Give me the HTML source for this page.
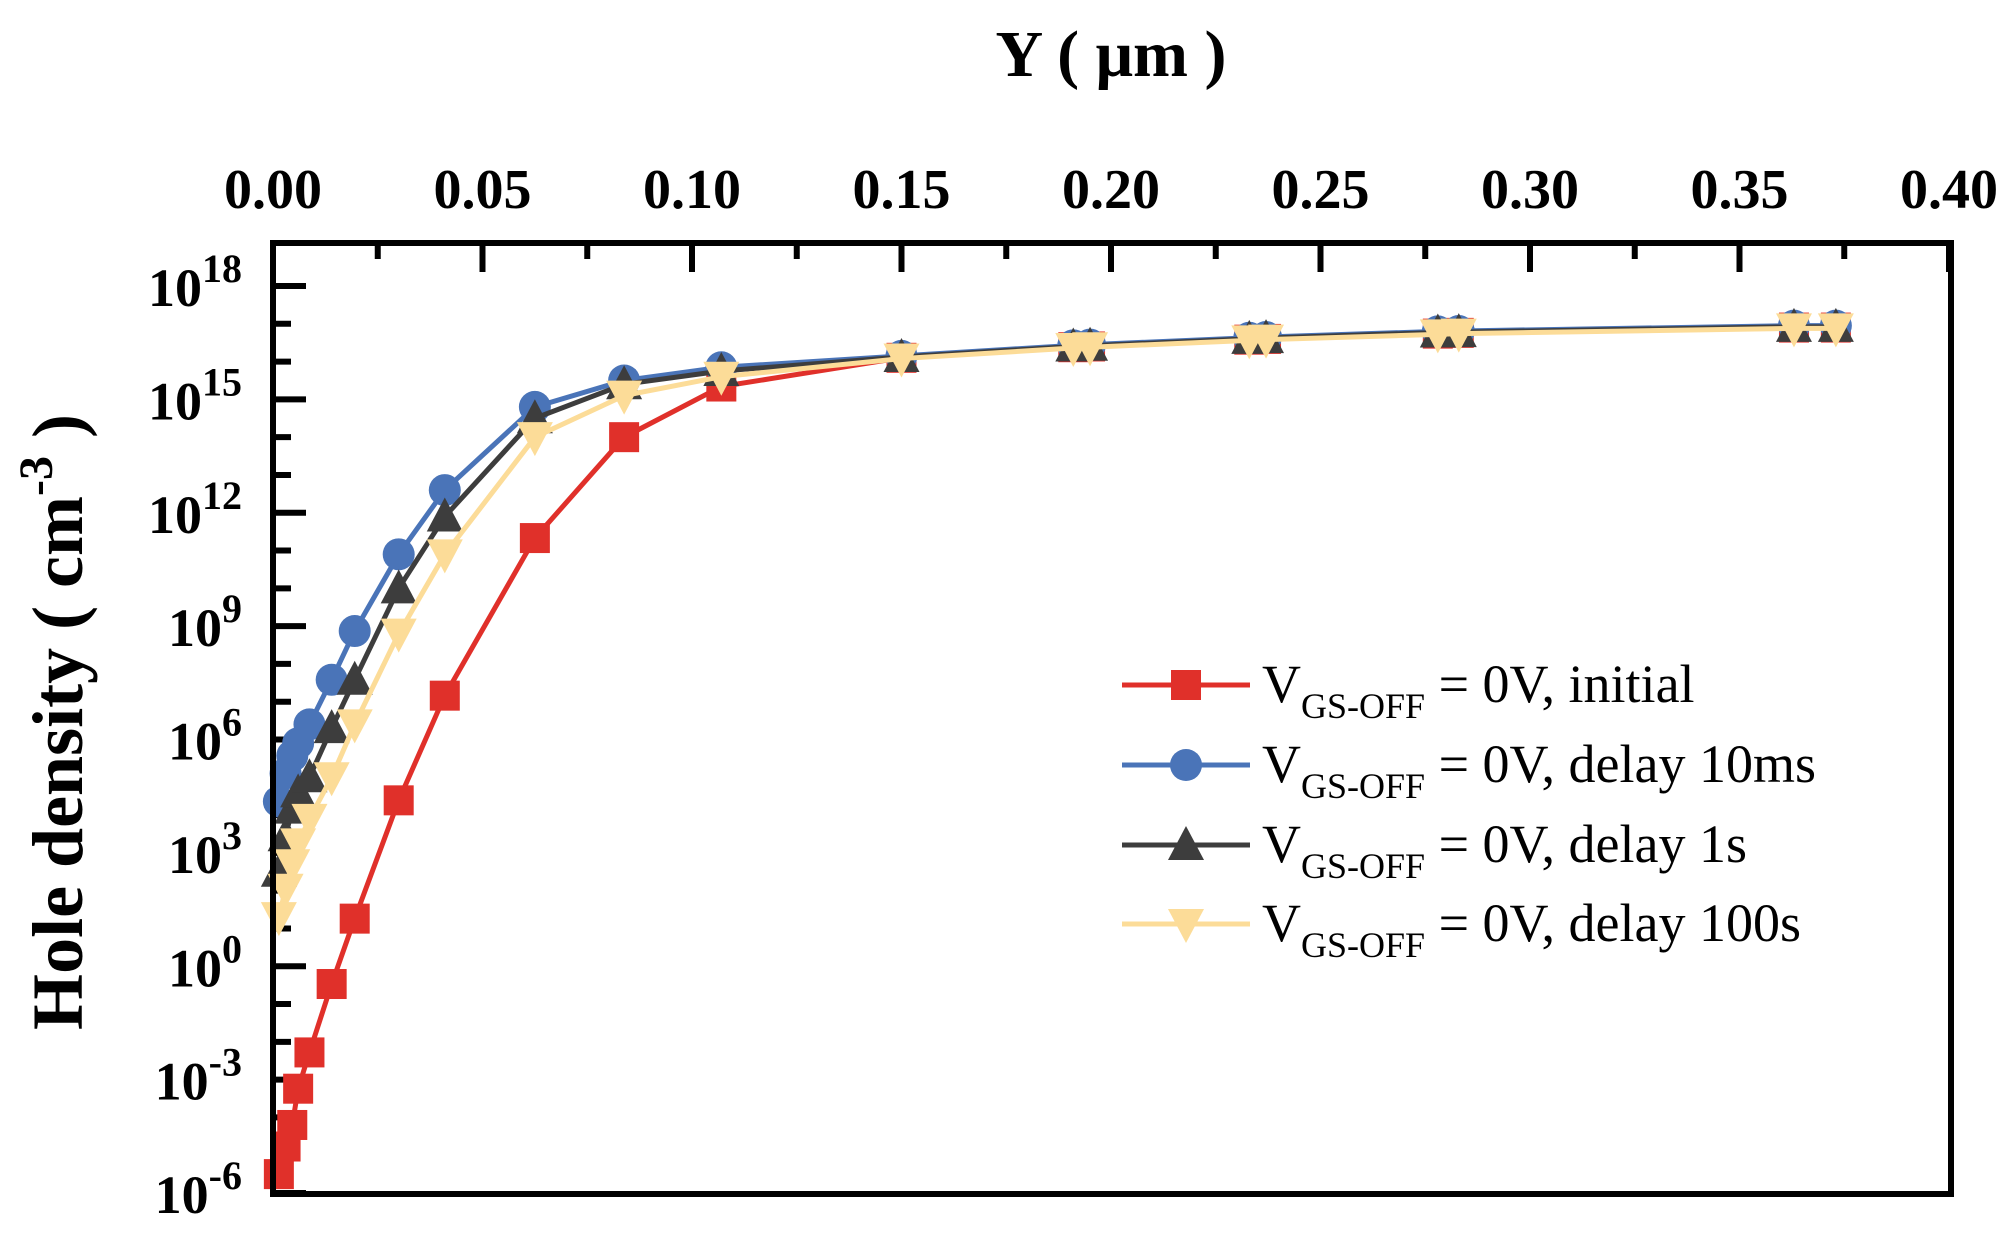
<!DOCTYPE html>
<html><head><meta charset="utf-8"><style>
html,body{margin:0;padding:0;background:#fff;}
svg{display:block;font-family:"Liberation Serif",serif;}
</style></head><body>
<svg id="chart" width="2008" height="1233" viewBox="0 0 2008 1233" xmlns="http://www.w3.org/2000/svg">
<rect x="0" y="0" width="2008" height="1233" fill="#fff"/>
<g id="ticks"></g>
<g id="series"></g>
<rect x="273" y="243" width="1678" height="951" fill="none" stroke="#000" stroke-width="6"/>
<text x="1111" y="76" font-size="66" font-weight="bold" text-anchor="middle">Y ( μm )</text>
<text transform="translate(82,722) rotate(-90)" font-size="72" font-weight="bold" text-anchor="middle">Hole density ( cm<tspan dy="-30" font-size="48">-3</tspan><tspan dy="30"> )</tspan></text>
<g id="legend"></g>
</svg>
<script>
const xTicks = [0, 0.05, 0.10, 0.15, 0.20, 0.25, 0.30, 0.35, 0.40];
const xTickLabels = ["0.00","0.05","0.10","0.15","0.20","0.25","0.30","0.35","0.40"];
const yTickExps = [18, 15, 12, 9, 6, 3, 0, -3, -6];
const xVals = [0.0014,0.003,0.0046,0.006,0.0087,0.014,0.0195,0.030,0.041,0.0625,0.0838,0.107,0.150,0.191,0.195,0.233,0.237,0.278,0.283,0.363,0.373];
const logInitial = [-5.5,-4.77,-4.2,-3.24,-2.28,-0.47,1.26,4.39,7.16,11.33,14.0,15.34,16.1,16.38,16.4,16.58,16.6,16.74,16.76,16.9,16.9];
const logDelay10ms = [4.36,5.1,5.57,5.9,6.4,7.58,8.87,10.9,12.6,14.8,15.5,15.85,16.15,16.43,16.45,16.63,16.65,16.8,16.81,16.95,16.95];
const logDelay1s = [2.5,3.44,4.17,4.6,5.0,6.3,7.58,10.0,11.9,14.5,15.4,15.75,16.12,16.4,16.42,16.6,16.62,16.77,16.78,16.92,16.92];
const logDelay100s = [1.3,2.05,2.7,3.25,3.9,5.0,6.4,8.8,10.9,14.0,15.1,15.6,16.08,16.36,16.38,16.56,16.58,16.72,16.74,16.88,16.88];
const seriesNames = ["initial","delay 10ms","delay 1s","delay 100s"];

const NS="http://www.w3.org/2000/svg";
const X0=273, X1=1949, XMAX=0.40;
const YTOP=286, YBOT=1193, EMAX=18, EMIN=-6;
function xs(v){return X0+(v/XMAX)*(X1-X0);}
function ys(e){return YTOP+(EMAX-e)/(EMAX-EMIN)*(YBOT-YTOP);}
function mk(tag,attrs,parent){const el=document.createElementNS(NS,tag);for(const k in attrs)el.setAttribute(k,attrs[k]);parent.appendChild(el);return el;}

const tg=document.getElementById('ticks');
xTicks.forEach((v,i)=>{
  const x=xs(v);
  const t=mk('line',{x1:x,y1:243,x2:x,y2:272,stroke:'#000','stroke-width':6},tg);
  
  
  if(i<xTicks.length-1){
    const m=mk('line',{x1:xs(v+0.025),y1:243,x2:xs(v+0.025),y2:259,stroke:'#000','stroke-width':6},tg);
    
    
  }
  const lb=mk('text',{x:x,y:208,'font-size':56,'font-weight':'bold','text-anchor':'middle'},tg);
  lb.textContent=xTickLabels[i];
  
  
});
for(let e=EMIN;e<=EMAX;e++){
  const y=ys(e), major=(e%3===0);
  const t=mk('line',{x1:273,y1:y,x2:major?306:291,y2:y,stroke:'#000','stroke-width':6},tg);
  
  
}
yTickExps.forEach(e=>{
  const lb=mk('text',{x:242,y:ys(e)+20,'font-size':54,'font-weight':'bold','text-anchor':'end'},tg);
  
  
  const a=document.createElementNS(NS,'tspan');a.textContent='10';lb.appendChild(a);
  const b=document.createElementNS(NS,'tspan');b.setAttribute('dy','-24');b.setAttribute('font-size','40');b.textContent=String(e);lb.appendChild(b);
});

function marker(kind,x,y,color,parent){
  const s=16;let el;
  if(kind==='square') el=mk('rect',{x:x-s+1,y:y-s+1,width:2*s-2,height:2*s-2,fill:color},parent);
  else if(kind==='circle') el=mk('circle',{cx:x,cy:y,r:s,fill:color},parent);
  else if(kind==='up') el=mk('polygon',{points:`${x},${y-s-3} ${x+s+2},${y+s-1} ${x-s-2},${y+s-1}`,fill:color},parent);
  else el=mk('polygon',{points:`${x},${y+s+3} ${x+s+2},${y-s+1} ${x-s-2},${y-s+1}`,fill:color},parent);
  return el;
}
const sg=document.getElementById('series');
const defs=[
 {vals:logInitial,color:'#e0302a',kind:'square',name:'series-initial'},
 {vals:logDelay10ms,color:'#4a74b8',kind:'circle',name:'series-delay-10ms'},
 {vals:logDelay1s,color:'#3d3d3d',kind:'up',name:'series-delay-1s'},
 {vals:logDelay100s,color:'#fcdc98',kind:'down',name:'series-delay-100s'}
];
defs.forEach(d=>{
  const g=mk('g',{},sg);
  
  
  const pts=xVals.map((v,i)=>xs(v)+','+ys(d.vals[i])).join(' ');
  const ln=mk('polyline',{points:pts,fill:'none',stroke:d.color,'stroke-width':5},g);
  
  
  xVals.forEach((v,i)=>{
    const m=marker(d.kind,xs(v),ys(d.vals[i]),d.color,g);
    
    
  });
});

const lg=document.getElementById('legend');
const ly=[685,765,845,924];
defs.forEach((d,i)=>{
  const g=mk('g',{},lg);
  
  
  mk('line',{x1:1122,y1:ly[i],x2:1250,y2:ly[i],stroke:d.color,'stroke-width':5},g);
  marker(d.kind,1186,ly[i],d.color,g);
  const t=mk('text',{x:1262,y:ly[i]+17,'font-size':54},g);
  const a=document.createElementNS(NS,'tspan');a.textContent='V';t.appendChild(a);
  const b=document.createElementNS(NS,'tspan');b.setAttribute('dy','16');b.setAttribute('font-size','36');b.textContent='GS-OFF';t.appendChild(b);
  const c=document.createElementNS(NS,'tspan');c.setAttribute('dy','-16');c.textContent=' = 0V, '+seriesNames[i];t.appendChild(c);
});
</script>
</body></html>
